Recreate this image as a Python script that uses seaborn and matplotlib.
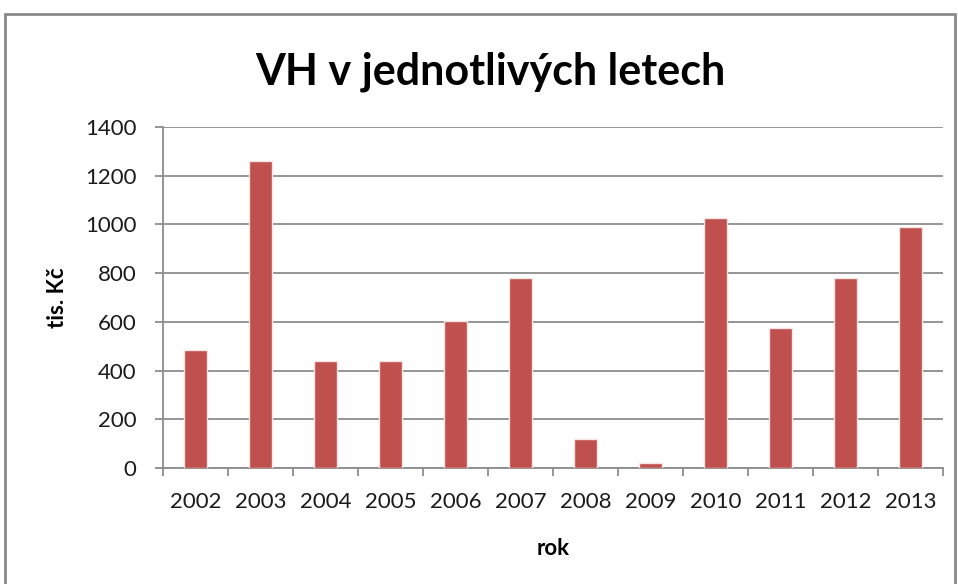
import numpy as np
import pandas as pd
import matplotlib
matplotlib.use("Agg")
import matplotlib.pyplot as plt
import seaborn as sns
from matplotlib.patches import Rectangle
from matplotlib.ticker import FixedLocator

years = ["2002", "2003", "2004", "2005", "2006", "2007",
         "2008", "2009", "2010", "2011", "2012", "2013"]
vh = [486, 1261, 439, 439, 602, 780, 118, 22, 1028, 575, 780, 991]
y_ticks = [0, 200, 400, 600, 800, 1000, 1200, 1400]

df = pd.DataFrame({"rok": years, "vh": vh})

sns.set_theme(style="white")
plt.rcParams['font.family'] = ['Lato', 'DejaVu Sans']

fig = plt.figure(figsize=(9.58, 5.84), dpi=100)
ax = fig.add_axes([163 / 958, 1 - 468 / 584, 780 / 958, 341 / 584])

grid_c = "#8c8c8c"
sns.barplot(data=df, x="rok", y="vh", color="#C0504D", saturation=1,
            width=0.36, edgecolor="#f3e3e3", linewidth=1.0, ax=ax, zorder=3)

ax.set_ylim(0, 1400)
ax.set_xlim(-0.5, len(years) - 0.5)
ax.set_yticks(y_ticks)
ax.yaxis.grid(True, color=grid_c, linewidth=1.3)
ax.set_axisbelow(True)

for s in ["top", "right"]:
    ax.spines[s].set_visible(False)
for s in ["left", "bottom"]:
    ax.spines[s].set_color(grid_c)
    ax.spines[s].set_linewidth(1.3)

# tick marks between categories, like the original
ax.xaxis.set_minor_locator(FixedLocator(np.arange(-0.5, len(years), 1.0)))
ax.tick_params(axis="x", which="major", length=0, pad=17, labelsize=16, colors="#1a1a1a")
ax.tick_params(axis="x", which="minor", length=6, width=1.3, color=grid_c, bottom=True)
ax.tick_params(axis="y", which="major", length=6, width=1.3, color=grid_c, left=True,
               pad=13, labelsize=16, colors="#1a1a1a")

ax.set_xlabel("rok", fontsize=16, fontweight="bold", color="#000000")
ax.set_ylabel("tis. Kč", fontsize=16, fontweight="bold", color="#000000")
ax.xaxis.set_label_coords(0.5, -0.205)
ax.yaxis.set_label_coords(-0.122, 0.5)

fig.text(490 / 958, 1 - 84 / 584, "VH v jednotlivých letech", ha="center",
         va="baseline", fontsize=31, fontweight="bold", color="#000000")

# outer chart frame
fig.patches.append(Rectangle((5 / 958, -0.1), 950 / 958, 1.1 - 14 / 584,
                             transform=fig.transFigure, fill=False,
                             edgecolor="#8a8a8a", linewidth=2))

fig.savefig("out.png", dpi=100)
